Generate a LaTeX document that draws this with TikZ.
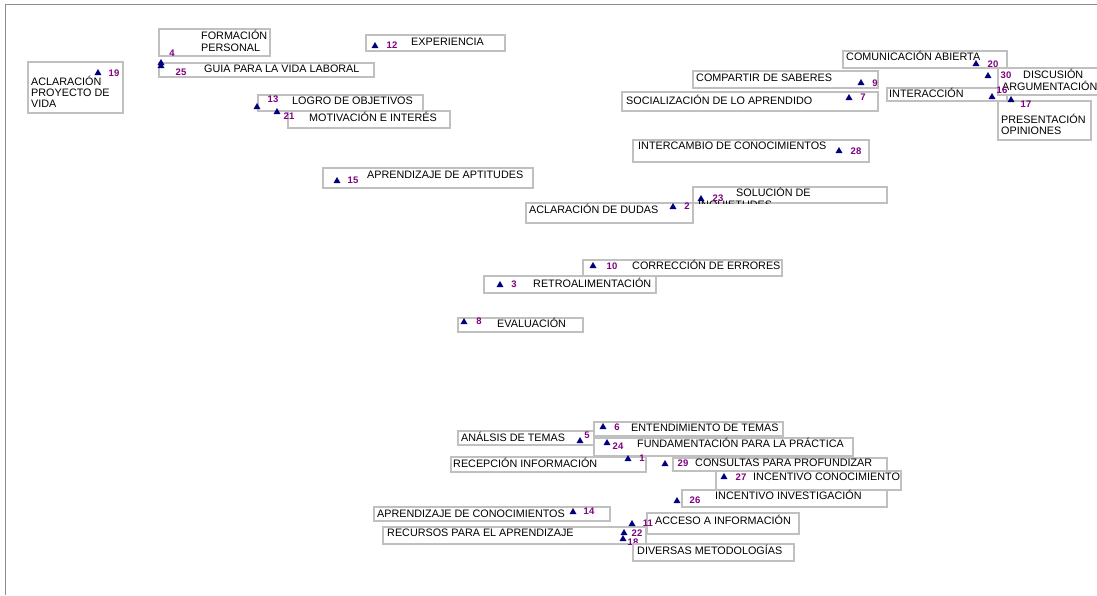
\documentclass[tikz,border=0pt]{standalone}
\usepackage{fontspec}
\setmainfont{Liberation Sans}
\usepackage{tikz}
\usetikzlibrary{positioning, shapes.geometric, fit}

\definecolor{dotblue}{RGB}{0,0,128}
\definecolor{numpurple}{RGB}{128,0,128}
\definecolor{boxgray}{RGB}{192,192,192}
\definecolor{framegray}{RGB}{140,140,140}

\begin{document}
\begin{tikzpicture}[
    x=1pt, y=-1pt,
    cbox/.style={
        draw=boxgray,
        fill=white,
        line width=1.2pt,
        inner sep=0pt
    },
    % base west of a multi-line text is its last line
    word/.style={
        inner sep=0pt,
        anchor=base west,
        yshift=-3.9pt,
        align=left,
        font=\fontsize{10.8}{12}\selectfont
    },
    word11/.style={
        word,
        font=\fontsize{10.8}{11}\selectfont
    },
    tri/.style={
        regular polygon,
        regular polygon sides=3,
        minimum size=8pt,
        inner sep=0pt,
        fill=dotblue
    },
    idx/.style={
        inner sep=0pt,
        text=numpurple,
        font=\bfseries\fontsize{9.5}{10}\selectfont
    },
    frame/.style={
        draw=framegray,
        line width=1.5pt
    }
]

    \clip (0,0) rectangle (1097,595);

    % Frame
    \draw[frame] (1097,4.5) -- (5.5,4.5) -- (5.5,595);

    % --- Upper left group ---
    \node[cbox, fit={(159,29) (270,56)}] (b4) {};
    \node[word] (t4) at (201,48) {FORMACIÓN\\PERSONAL};
    \node[cbox, fit={(159,63) (374,77)}] (b25) {};
    \node[word] (t25) at (204,69) {GUIA PARA LA VIDA LABORAL};
    \node[cbox, fit={(28,62) (123,113)}] (b19) {};
    \node[word11] (t19) at (31,104) {ACLARACIÓN\\PROYECTO DE\\VIDA};
    \node[cbox, fit={(366,35) (505,51)}] (b12) {};
    \node[word] (t12) at (411,42) {EXPERIENCIA};
    \node[cbox, fit={(258,95) (423,111)}] (b13) {};
    \node[word] (t13) at (292,101) {LOGRO DE OBJETIVOS};
    \node[cbox, fit={(288,111) (450,128)}] (b21) {};
    \node[word] (t21) at (309,118) {MOTIVACIÓN E INTERÉS};
    \node[cbox, fit={(323,168) (533,188)}] (b15) {};
    \node[word] (t15) at (367,175) {APRENDIZAJE DE APTITUDES};

    % --- Upper right group ---
    \node[cbox, fit={(843,51) (1007,68)}] (b20) {};
    \node[word] (t20) at (846,57) {COMUNICACIÓN ABIERTA};
    \node[cbox, fit={(693,71) (878,88)}] (b9) {};
    \node[word] (t9) at (696,78) {COMPARTIR DE SABERES};
    \node[cbox, fit={(622,92) (878,111)}] (b7) {};
    \node[word] (t7) at (626,101) {SOCIALIZACIÓN DE LO APRENDIDO};
    \node[cbox, fit={(887,88) (1007,101)}] (b16) {};
    \node[word] (t16) at (889,94) {INTERACCIÓN};
    \node[cbox, fit={(998,68) (1110,95)}] (b30) {};
    \node[word] (t30) at (1002,87) {\hspace*{21pt}DISCUSIÓN\\ARGUMENTACIÓN};
    \node[cbox, fit={(998,101) (1091,140)}] (b17) {};
    \node[word11] (t17) at (1001,131) {PRESENTACIÓN\\OPINIONES};
    \node[cbox, fit={(633,140) (869,162)}] (b28) {};
    \node[word] (t28) at (638,146) {INTERCAMBIO DE CONOCIMIENTOS};
    \node[cbox, fit={(693,187) (887,203)}] (b23) {};
    \begin{scope}
        \clip (693,187) rectangle (887,203);
        \node[word] (t23) at (698,205) {\hspace*{38pt}SOLUCIÓN DE\\INQUIETUDES};
    \end{scope}
    \node[cbox, fit={(526,203) (693,223)}] (b2) {};
    \node[word] (t2) at (529,210) {ACLARACIÓN DE DUDAS};

    % --- Middle group ---
    \node[cbox, fit={(583,260) (782,276)}] (b10) {};
    \node[word] (t10) at (632,266) {CORRECCIÓN DE ERRORES};
    \node[cbox, fit={(484,276) (656,293)}] (b3) {};
    \node[word] (t3) at (533,284) {RETROALIMENTACIÓN};
    \node[cbox, fit={(458,318) (583,332)}] (b8) {};
    \node[word] (t8) at (497,324) {EVALUACIÓN};

    % --- Lower group ---
    \node[cbox, fit={(594,422) (783,436)}] (b6) {};
    \node[word] (t6) at (631,428) {ENTENDIMIENTO DE TEMAS};
    \node[cbox, fit={(458,431) (594,445)}] (b5) {};
    \node[word] (t5) at (461,438) {ANÁLSIS DE TEMAS};
    \node[cbox, fit={(594,438) (853,456)}] (b24) {};
    \node[word] (t24) at (637,444) {FUNDAMENTACIÓN PARA LA PRÁCTICA};
    \node[cbox, fit={(451,457) (646,472)}] (b1) {};
    \node[word] (t1) at (453,464) {RECEPCIÓN INFORMACIÓN};
    \node[cbox, fit={(673,458) (887,471)}] (b29) {};
    \node[word] (t29) at (695,463) {CONSULTAS PARA PROFUNDIZAR};
    \node[cbox, fit={(716,471) (901,490)}] (b27) {};
    \node[word] (t27) at (753,477) {INCENTIVO CONOCIMIENTO};
    \node[cbox, fit={(682,490) (887,507)}] (b26) {};
    \node[word] (t26) at (715,496) {INCENTIVO INVESTIGACIÓN};
    \node[cbox, fit={(374,507) (610,521)}] (b14) {};
    \node[word] (t14) at (377,514) {APRENDIZAJE DE CONOCIMIENTOS};
    \node[cbox, fit={(647,513) (799,534)}] (b11) {};
    \node[word] (t11) at (655,521) {ACCESO A INFORMACIÓN};
    \node[cbox, fit={(383,527) (646,544)}] (b22) {};
    \node[word] (t22) at (387,533) {RECURSOS PARA EL APRENDIZAJE};

    % Points and their numbers
    \node[tri] (p4) at (161,63) {};   \node[idx] (n4) at (172,53) {4};
    \node[tri] (p25) at (161,66) {};  \node[idx] (n25) at (181,72) {25};
    \node[tri] (p19) at (98,73) {};   \node[idx] (n19) at (114,73) {19};
    \node[tri] (p12) at (375,46) {};  \node[idx] (n12) at (392,45) {12};
    \node[tri] (p13) at (257,107) {}; \node[idx] (n13) at (273,99) {13};
    \node[tri] (p21) at (277,112) {}; \node[idx] (n21) at (289,116) {21};
    \node[tri] (p15) at (337,181) {}; \node[idx] (n15) at (353,180) {15};
    \node[tri] (p20) at (976,64) {};  \node[idx] (n20) at (993,64) {20};
    \node[tri] (p9) at (861,83) {};   \node[idx] (n9) at (875,83) {9};
    \node[tri] (p7) at (849,98) {};   \node[idx] (n7) at (863,97) {7};
    \node[tri] (p16) at (992,97) {};  \node[idx] (n16) at (1002,90) {16};
    \node[tri] (p30) at (988,76) {};  \node[idx] (n30) at (1006,75) {30};
    \node[tri] (p17) at (1011,100) {};\node[idx] (n17) at (1026,104) {17};
    \node[tri] (p28) at (839,151) {}; \node[idx] (n28) at (856,151) {28};
    \node[tri] (p23) at (701,199) {}; \node[idx] (n23) at (718,198) {23};
    \node[tri] (p2) at (673,207) {};  \node[idx] (n2) at (687,206) {2};
    \node[tri] (p10) at (593,266) {}; \node[idx] (n10) at (612,266) {10};
    \node[tri] (p3) at (500,285) {};  \node[idx] (n3) at (514,284) {3};
    \node[tri] (p8) at (464,322) {};  \node[idx] (n8) at (479,321) {8};
    \node[tri] (p6) at (603,427) {};  \node[idx] (n6) at (617,427) {6};
    \node[tri] (p5) at (580,441) {};  \node[idx] (n5) at (587,435) {5};
    \node[tri] (p24) at (607,443) {}; \node[idx] (n24) at (618,446) {24};
    \node[tri] (p1) at (628,459) {};  \node[idx] (n1) at (642,458) {1};
    \node[tri] (p29) at (665,464) {}; \node[idx] (n29) at (683,463) {29};
    \node[tri] (p27) at (724,477) {}; \node[idx] (n27) at (741,477) {27};
    \node[tri] (p26) at (677,501) {}; \node[idx] (n26) at (695,500) {26};
    \node[tri] (p14) at (573,512) {}; \node[idx] (n14) at (589,511) {14};
    \node[tri] (p11) at (632,524) {}; \node[idx] (n11) at (648,523) {11};
    \node[tri] (p22) at (624,533) {}; \node[idx] (n22) at (637,533) {22};
    \node[tri] (p18) at (623,539) {}; \node[idx] (n18) at (633,542) {18};

    % Diversas metodologias (covers part of 18)
    \node[cbox, fit={(633,544) (794,561)}] (b18) {};
    \node[word] (t18) at (637,551) {DIVERSAS METODOLOGÍAS};

\end{tikzpicture}
\end{document}
